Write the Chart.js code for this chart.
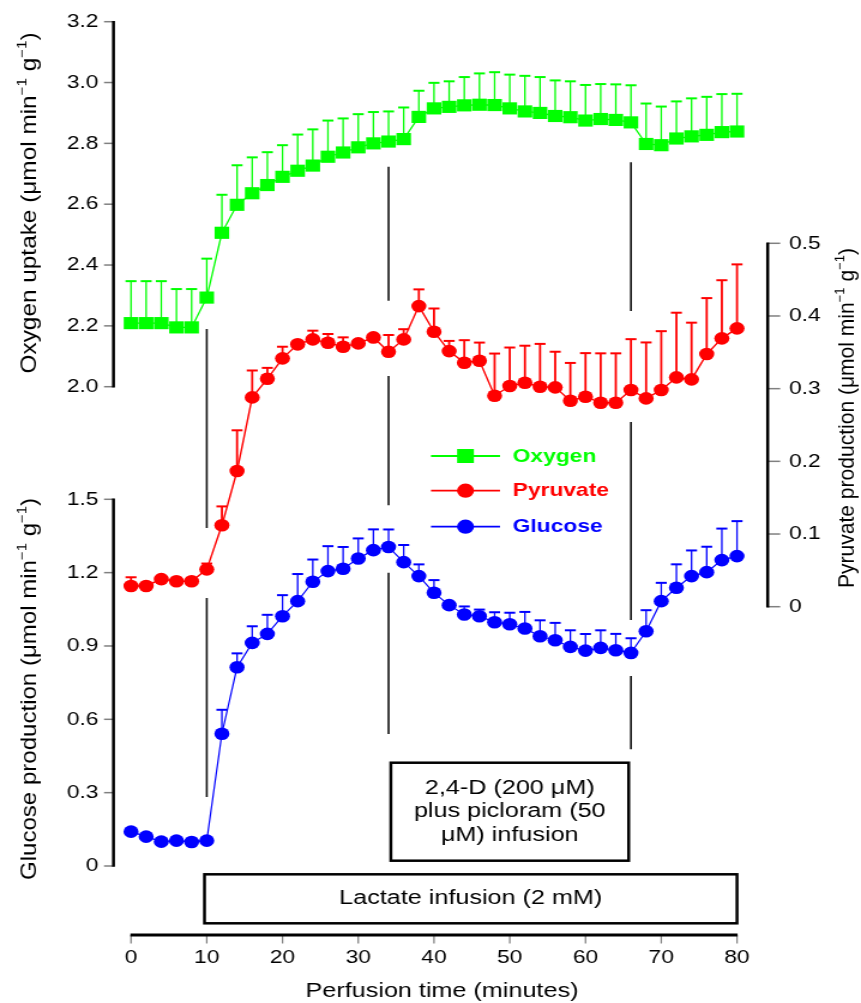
<!DOCTYPE html>
<html>
<head>
<meta charset="utf-8">
<script src="https://cdn.jsdelivr.net/npm/chart.js@4.4.1/dist/chart.umd.min.js"></script>
<style>
  html, body { margin: 0; padding: 0; background: #fff; overflow: hidden; }
  #frame { position: absolute; left: 0; top: 0; width: 718px; height: 1003px;
           transform: scaleX(1.19916); transform-origin: 0 0; }
</style>
</head>
<body>
<div id="frame"><canvas id="chart" width="718" height="1003"></canvas></div>
<script>
// ---- data ----------------------------------------------------------------
const minutes = [0, 2, 4, 6, 8, 10, 12, 14, 16, 18, 20, 22, 24, 26, 28, 30, 32, 34, 36, 38, 40,
                 42, 44, 46, 48, 50, 52, 54, 56, 58, 60, 62, 64, 66, 68, 70, 72, 74, 76, 78, 80];

const oxygenUptake = [2.209, 2.209, 2.209, 2.195, 2.195, 2.293, 2.506, 2.598, 2.636, 2.663, 2.690,
                      2.710, 2.727, 2.756, 2.770, 2.787, 2.800, 2.806, 2.814, 2.887, 2.915,
                      2.920, 2.925, 2.927, 2.926, 2.915, 2.905, 2.900, 2.890, 2.886, 2.875,
                      2.880, 2.877, 2.869, 2.798, 2.794, 2.816, 2.823, 2.828, 2.837, 2.839];
const oxygenSD = [0.138, 0.138, 0.138, 0.126, 0.126, 0.128, 0.125, 0.130, 0.118, 0.108, 0.104,
                  0.119, 0.119, 0.119, 0.112, 0.109, 0.103, 0.099, 0.104, 0.086, 0.084,
                  0.084, 0.093, 0.103, 0.108, 0.111, 0.117, 0.118, 0.117, 0.118, 0.117,
                  0.115, 0.117, 0.122, 0.133, 0.127, 0.122, 0.125, 0.125, 0.125, 0.124];

const pyruvateOutput = [0.0285, 0.0285, 0.038, 0.035, 0.035, 0.0514, 0.112, 0.1867, 0.288, 0.3136, 0.3417,
                        0.361, 0.3678, 0.3632, 0.3576, 0.3623, 0.3705, 0.3508, 0.3678, 0.4136, 0.3783,
                        0.3517, 0.3357, 0.3384, 0.2903, 0.3036, 0.3081, 0.3026, 0.3018, 0.2834, 0.2889,
                        0.2806, 0.2806, 0.2981, 0.2866, 0.2981, 0.3155, 0.3128, 0.3476, 0.3692, 0.383];
const pyruvateSD = [0.012, 0.003, 0.003, 0.002, 0.002, 0.008, 0.026, 0.056, 0.037, 0.015, 0.016,
                    0.004, 0.012, 0.012, 0.013, 0.004, 0.004, 0.023, 0.014, 0.023, 0.032,
                    0.014, 0.031, 0.025, 0.058, 0.053, 0.051, 0.059, 0.049, 0.052, 0.060,
                    0.068, 0.068, 0.070, 0.077, 0.081, 0.089, 0.078, 0.077, 0.080, 0.088];

const glucoseOutput = [0.1406, 0.120, 0.0996, 0.1037, 0.0984, 0.1037, 0.541, 0.8128, 0.9126, 0.9495, 1.0219,
                       1.0833, 1.1626, 1.2063, 1.216, 1.258, 1.292, 1.3046, 1.243, 1.1858, 1.1175,
                       1.067, 1.0287, 1.0219, 0.997, 0.989, 0.9713, 0.940, 0.9235, 0.8962, 0.8811,
                       0.8921, 0.8825, 0.8716, 0.9604, 1.0833, 1.138, 1.1858, 1.202, 1.2512, 1.2677];
const glucoseSD = [0.005, 0.003, 0.003, 0.003, 0.003, 0.003, 0.098, 0.057, 0.068, 0.078, 0.086,
                   0.111, 0.091, 0.102, 0.089, 0.082, 0.085, 0.072, 0.070, 0.048, 0.052,
                   0.004, 0.033, 0.027, 0.041, 0.047, 0.068, 0.065, 0.071, 0.068, 0.068,
                   0.072, 0.067, 0.060, 0.086, 0.075, 0.096, 0.105, 0.104, 0.129, 0.143];

const timeTicks = ['0', '10', '20', '30', '40', '50', '60', '70', '80'];
const oxygenTicks = ['2.0', '2.2', '2.4', '2.6', '2.8', '3.0', '3.2'];
const pyruvateTicks = ['0', '0.1', '0.2', '0.3', '0.4', '0.5'];
const glucoseTicks = ['0', '0.3', '0.6', '0.9', '1.2', '1.5'];

// ---- layout --------------------------------------------------------------
const SX = 861 / 718;                 // horizontal stretch applied to the canvas
const px = v => v / SX;               // page x → canvas x
const FONT = '"Liberation Sans", Arial, Helvetica, sans-serif';
const AREA_TOP = 21.7, AREA_BOTTOM = 935;

// value range of an axis so that v0 sits at y0 and v1 at y1 inside the plot area
function span(v0, y0, v1, y1) {
  const k = (v1 - v0) / (y1 - y0);
  return { min: v0 + (AREA_BOTTOM - y0) * k, max: v0 + (AREA_TOP - y0) * k };
}
const oxyRange = span(2.0, 386.7, 3.2, 21.7);
const pyrRange = span(0, 606.7, 0.5, 243.3);
const gluRange = span(0, 866, 1.5, 499.3);

// infusion markers: vertical segments, in minutes and glucose-axis units
const infusionLines = [
  { at: 10, spans: [[2.1966, 1.3826], [1.0963, 0.2822]] },
  { at: 34, spans: [[2.8605, 2.3122], [2.0043, 1.4754], [1.1997, 0.5399]] },
  { at: 66, spans: [[2.8785, 2.2702], [1.8162, 1.0063], [0.7772, 0.4774]] }
];
const infusionBoxes = [
  { from: 34.3, to: 65.7, top: 0.4225, bottom: 0.0217,
    lines: ['2,4-D (200 \u03bcM)', 'plus picloram (50', '\u03bcM) infusion'] },
  { from: 9.7, to: 80, top: -0.034, bottom: -0.2344, lines: ['Lactate infusion (2 mM)'] }
];

// ---- drawing helpers -----------------------------------------------------
function text(ctx, str, x, y, opt) {
  const o = Object.assign({ size: 19, weight: '', align: 'center', baseline: 'middle', color: '#000', sx: 1 }, opt);
  ctx.save();
  ctx.translate(x, y);
  ctx.scale(o.sx, 1);
  ctx.font = `${o.weight} ${o.size}px ${FONT}`;
  ctx.textAlign = o.align;
  ctx.textBaseline = o.baseline;
  ctx.fillStyle = o.color;
  ctx.fillText(str, 0, 0);
  ctx.restore();
}

// vertical title reading bottom to top, with superscript runs, fitted to a length
function verticalTitle(ctx, runs, x, yCenter, size, length) {
  ctx.save();
  const supSize = size * 0.62;
  const widths = runs.map(r => {
    ctx.font = `${r.sup ? supSize : size}px ${FONT}`;
    return ctx.measureText(r.t).width;
  });
  const total = widths.reduce((a, b) => a + b, 0);
  ctx.translate(x, yCenter);
  ctx.rotate(-Math.PI / 2);
  ctx.scale(length / total, 1);
  ctx.fillStyle = '#000';
  ctx.textBaseline = 'alphabetic';
  ctx.textAlign = 'left';
  let pos = -total / 2;
  const base = size * 0.36;
  runs.forEach((r, i) => {
    ctx.font = `${r.sup ? supSize : size}px ${FONT}`;
    ctx.fillText(r.t, pos, r.sup ? base - size * 0.42 : base);
    pos += widths[i];
  });
  ctx.restore();
}

function unitRuns(name) {
  return [{ t: name + ' (\u03bcmol min' }, { t: '\u22121', sup: true }, { t: ' g' }, { t: '\u22121', sup: true }, { t: ')' }];
}

function yAxis(ctx, scale, labels, xLine, side) {
  const vals = labels.map(Number);
  const yTop = scale.getPixelForValue(Math.max(...vals));
  const yBot = scale.getPixelForValue(Math.min(...vals));
  const dir = side === 'left' ? -1 : 1;
  ctx.save();
  ctx.strokeStyle = '#808080';
  ctx.lineWidth = 1.5;
  labels.forEach((lab, i) => {
    const y = scale.getPixelForValue(vals[i]);
    ctx.beginPath();
    ctx.moveTo(xLine, y);
    ctx.lineTo(xLine + dir * px(side === 'left' ? 9.5 : 12.5), y);
    ctx.stroke();
    text(ctx, lab, side === 'left' ? px(98.5) : px(789), y,
         { align: side === 'left' ? 'right' : 'left' });
  });
  ctx.strokeStyle = '#000';
  ctx.lineWidth = px(3);
  ctx.beginPath();
  ctx.moveTo(xLine, yTop - 0.75);
  ctx.lineTo(xLine, yBot + 0.75);
  ctx.stroke();
  ctx.restore();
}

// ---- plugins -------------------------------------------------------------
const errorBars = {
  id: 'errorBars',
  beforeDatasetsDraw(chart) {
    const ctx = chart.ctx;
    chart.data.datasets.forEach((ds, di) => {
      const meta = chart.getDatasetMeta(di);
      const ys = chart.scales[ds.yAxisID];
      ctx.save();
      ctx.strokeStyle = ds.borderColor;
      meta.data.forEach((pt, i) => {
        const top = ys.getPixelForValue(ds.data[i].y + ds.sd[i]);
        ctx.lineWidth = ds.errWidth;
        ctx.beginPath();
        ctx.moveTo(pt.x, pt.y);
        ctx.lineTo(pt.x, top);
        ctx.stroke();
        ctx.lineWidth = 2;
        ctx.beginPath();
        ctx.moveTo(pt.x - px(5.5), top);
        ctx.lineTo(pt.x + px(5.5), top);
        ctx.stroke();
      });
      ctx.restore();
    });
  }
};

const frame = {
  id: 'frame',
  afterDatasetsDraw(chart) {
    const ctx = chart.ctx;
    const xs = chart.scales.x, yo = chart.scales.yO, yp = chart.scales.yP, yg = chart.scales.yG;

    // y axes
    yAxis(ctx, yo, oxygenTicks, px(113.5), 'left');
    yAxis(ctx, yg, glucoseTicks, px(113.5), 'left');
    yAxis(ctx, yp, pyruvateTicks, px(767.7), 'right');

    verticalTitle(ctx, unitRuns('Oxygen uptake'), px(28), 203, 19, 341);
    verticalTitle(ctx, unitRuns('Glucose production'), px(28), 689, 19, 382);
    verticalTitle(ctx, unitRuns('Pyruvate production'), px(846), 418, 19, 340);

    // x axis
    ctx.save();
    const yAx = AREA_BOTTOM;
    ctx.strokeStyle = '#808080';
    ctx.lineWidth = px(1.5);
    timeTicks.forEach(t => {
      const x = xs.getPixelForValue(Number(t));
      ctx.beginPath();
      ctx.moveTo(x, yAx);
      ctx.lineTo(x, yAx + 8.5);
      ctx.stroke();
      text(ctx, t, x, 957.5);
    });
    ctx.strokeStyle = '#000';
    ctx.lineWidth = 3;
    ctx.beginPath();
    ctx.moveTo(xs.left - 0.5, yAx);
    ctx.lineTo(xs.right + 0.5, yAx);
    ctx.stroke();
    ctx.restore();
    text(ctx, 'Perfusion time (minutes)', px(442), 991, { size: 20, sx: 1.05 });

    // infusion markers
    ctx.save();
    ctx.strokeStyle = '#1a1a1a';
    ctx.lineWidth = px(2);
    infusionLines.forEach(m => {
      const x = xs.getPixelForValue(m.at);
      m.spans.forEach(([a, b]) => {
        ctx.beginPath();
        ctx.moveTo(x, yg.getPixelForValue(a));
        ctx.lineTo(x, yg.getPixelForValue(b));
        ctx.stroke();
      });
    });
    ctx.strokeStyle = '#000';
    ctx.lineWidth = 2.5;
    infusionBoxes.forEach(b => {
      const l = xs.getPixelForValue(b.from), r = xs.getPixelForValue(b.to);
      const t = yg.getPixelForValue(b.top), btm = yg.getPixelForValue(b.bottom);
      ctx.strokeRect(l, t, r - l, btm - t);
      const gap = 23.3;
      const y0 = (t + btm) / 2 - gap * (b.lines.length - 1) / 2;
      b.lines.forEach((s, i) => text(ctx, s, (l + r) / 2, y0 + i * gap, { size: 20, sx: 1.05 }));
    });
    ctx.restore();

    // legend
    const rows = [456, 490.7, 526.7];
    chart.data.datasets.forEach((ds, i) => {
      const y = rows[i];
      ctx.save();
      ctx.strokeStyle = ds.borderColor;
      ctx.fillStyle = ds.backgroundColor;
      ctx.lineWidth = 1.8;
      ctx.beginPath();
      ctx.moveTo(px(431), y);
      ctx.lineTo(px(500), y);
      ctx.stroke();
      const mx = px(465.5);
      ctx.beginPath();
      if (ds.pointStyle === 'rect') ctx.rect(mx - 7, y - 7, 14, 14);
      else ctx.ellipse(mx, y, 7.1, 7.1, 0, 0, Math.PI * 2);
      ctx.fill();
      ctx.restore();
      text(ctx, ds.label, px(512.7), y + 0.5, { size: 19, weight: 'bold', align: 'left', color: ds.borderColor });
    });
  }
};

// ---- chart ---------------------------------------------------------------
const series = vals => minutes.map((m, i) => ({ x: m, y: vals[i] }));

new Chart(document.getElementById('chart'), {
  type: 'line',
  data: {
    datasets: [
      { label: 'Oxygen', data: series(oxygenUptake), sd: oxygenSD, yAxisID: 'yO',
        borderColor: '#00ff00', backgroundColor: '#00ff00', pointBackgroundColor: '#00ff00',
        pointStyle: 'rect', pointRadius: 8.6, pointBorderWidth: 0, borderWidth: 1.3, errWidth: 1.3, clip: false },
      { label: 'Pyruvate', data: series(pyruvateOutput), sd: pyruvateSD, yAxisID: 'yP',
        borderColor: '#ff0000', backgroundColor: '#ff0000', pointBackgroundColor: '#ff0000',
        pointStyle: 'circle', pointRadius: 6.3, pointBorderWidth: 0, borderWidth: 1.4, errWidth: 1.8, clip: false },
      { label: 'Glucose', data: series(glucoseOutput), sd: glucoseSD, yAxisID: 'yG',
        borderColor: '#0000ff', backgroundColor: '#0000ff', pointBackgroundColor: '#0000ff',
        pointStyle: 'circle', pointRadius: 6.3, pointBorderWidth: 0, borderWidth: 1.2, errWidth: 1.3, clip: false }
    ]
  },
  options: {
    responsive: false,
    devicePixelRatio: 1,
    animation: false,
    layout: { padding: { left: px(131), right: 718 - px(737), top: AREA_TOP, bottom: 1003 - AREA_BOTTOM } },
    plugins: { legend: { display: false }, tooltip: { enabled: false } },
    elements: { line: { tension: 0 } },
    scales: {
      x: { type: 'linear', min: 0, max: 80, display: false },
      yO: { type: 'linear', position: 'left', min: oxyRange.min, max: oxyRange.max, display: false },
      yG: { type: 'linear', position: 'left', min: gluRange.min, max: gluRange.max, display: false },
      yP: { type: 'linear', position: 'right', min: pyrRange.min, max: pyrRange.max, display: false }
    }
  },
  plugins: [errorBars, frame]
});
</script>
</body>
</html>
